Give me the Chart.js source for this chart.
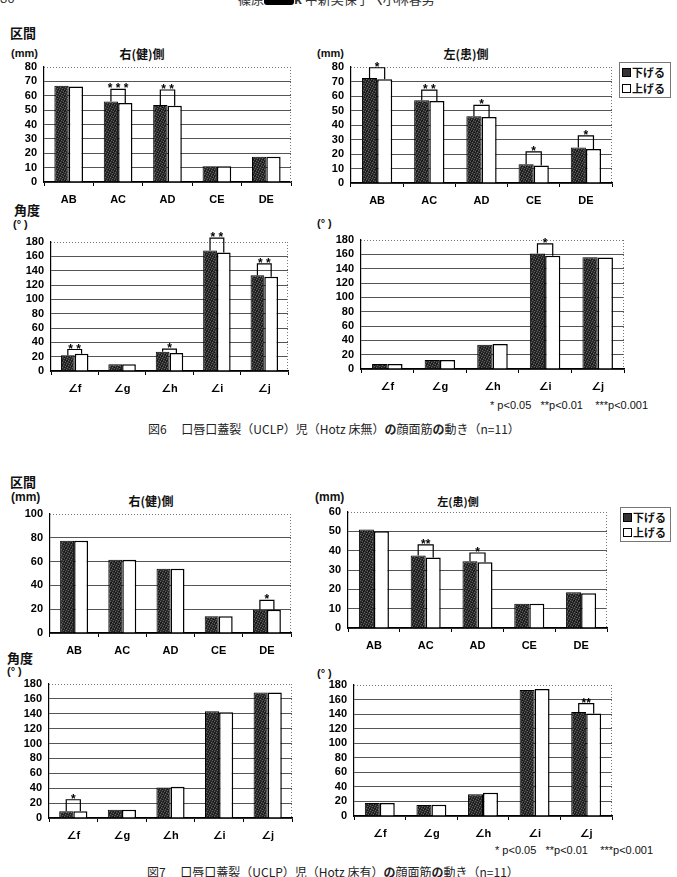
<!DOCTYPE html>
<html><head><meta charset="utf-8">
<script src="https://cdn.jsdelivr.net/npm/chart.js@4/dist/chart.umd.min.js"></script>
<style>
html,body{margin:0;padding:0;background:#fff;}
#page{position:relative;width:677px;height:877px;overflow:hidden;background:#fff;font-family:"Liberation Sans","Noto Sans CJK JP",sans-serif;color:#111;}
canvas{position:absolute;}
.t{position:absolute;white-space:pre;line-height:1;}
.cj{font-family:"Noto Sans CJK JP",sans-serif;}
.b{font-weight:bold;}
.lg{position:absolute;border:1px solid #777;background:#fff;box-sizing:border-box;font-family:"Noto Sans CJK JP",sans-serif;font-weight:bold;font-size:11px;line-height:1;}
.lg div{position:absolute;left:2px;white-space:pre;}
.sw{display:inline-block;width:7px;height:7px;border:1px solid #000;margin-right:1px;vertical-align:0px;}
</style></head>
<body><div id="page">
<div class="t cj" style="left:0;top:-9px;font-size:13px;color:#333">86</div>
<div class="t cj" style="left:238px;top:-8px;font-size:13px;color:#333">篠原<span style="display:inline-block;width:30px;height:11px;background:#000;border-radius:3px;vertical-align:-1px"></span><b>k</b> 中新美保子<b>〈</b>小林春男</div>

<div class="t cj b" style="left:10px;top:26px;font-size:13px">区間</div>
<div class="t b" style="left:11px;top:48px;font-size:11px">(mm)</div>
<div class="t cj b" style="left:92px;top:48px;width:100px;text-align:center;font-size:12px">右(健)側</div>
<div class="t b" style="left:317px;top:48px;font-size:11px">(mm)</div>
<div class="t cj b" style="left:416px;top:48px;width:100px;text-align:center;font-size:12px">左(患)側</div>
<div class="lg" style="left:619px;top:62px;width:52px;height:36px">
  <div style="top:4px"><span class="sw" id="sw1"></span>下げる</div>
  <div style="top:20px"><span class="sw" style="background:#fff"></span>上げる</div>
</div>
<div class="t cj b" style="left:14px;top:203px;font-size:13px">角度</div>
<div class="t b" style="left:13px;top:219px;font-size:11px">(° )</div>
<div class="t b" style="left:317px;top:218px;font-size:11px">(° )</div>
<div class="t" style="left:490px;top:400px;font-size:11px">* p&lt;0.05   **p&lt;0.01    ***p&lt;0.001</div>
<div class="t cj" style="left:148px;top:423px;font-size:12px;color:#222">図6　 口唇口蓋裂（UCLP）児（Hotz 床無）<b>の</b>顔面筋<b>の</b>動き（n=11）</div>

<div class="t cj b" style="left:10px;top:475px;font-size:13px">区間</div>
<div class="t b" style="left:11px;top:491px;font-size:12px">(mm)</div>
<div class="t cj b" style="left:101px;top:495px;width:100px;text-align:center;font-size:12px">右(健)側</div>
<div class="t b" style="left:315px;top:491px;font-size:12px">(mm)</div>
<div class="t cj b" style="left:408px;top:496px;width:100px;text-align:center;font-size:11px">左(患)側</div>
<div class="lg" style="left:620px;top:507px;width:51px;height:35px">
  <div style="top:4px"><span class="sw" id="sw2"></span>下げる</div>
  <div style="top:19px"><span class="sw" style="background:#fff"></span>上げる</div>
</div>
<div class="t cj b" style="left:7px;top:651px;font-size:13px">角度</div>
<div class="t b" style="left:7px;top:666px;font-size:11px">(° )</div>
<div class="t b" style="left:317px;top:668px;font-size:11px">(° )</div>
<div class="t" style="left:495px;top:845px;font-size:11px">* p&lt;0.05   **p&lt;0.01    ***p&lt;0.001</div>
<div class="t cj" style="left:147px;top:866px;font-size:12px;color:#222">図7　 口唇口蓋裂（UCLP）児（Hotz 床有）<b>の</b>顔面筋<b>の</b>動き（n=11）</div>
</div>
<script>
// ---- categories ----
const distCats = ['AB','AC','AD','CE','DE'];
const angleCats = ['∠f','∠g','∠h','∠i','∠j'];

// ---- Fig 6 (Hotz 床無) ----
const f6RightDistDown = [67, 56, 53.5, 11, 17.5];
const f6RightDistUp   = [66.5, 55, 53, 11, 17.5];
const f6RightDistBrk  = [null, 64.5, 64, null, null];
const f6RightDistSig  = ['', '* * *', '* *', '', ''];

const f6LeftDistDown = [72.5, 57, 46, 13, 24.5];
const f6LeftDistUp   = [71.5, 56.5, 45.5, 12, 23.5];
const f6LeftDistBrk  = [79.5, 64, 53.5, 21.5, 32.5];
const f6LeftDistSig  = ['*', '* *', '*', '*', '*'];

const f6RightAngDown = [22, 9.5, 27, 168, 133.5];
const f6RightAngUp   = [24, 9.5, 25, 165.5, 131.5];
const f6RightAngBrk  = [30, null, 30.5, 185.5, 149.5];
const f6RightAngSig  = ['* *', '', '*', '* *', '* *'];

const f6LeftAngDown = [7, 12.5, 34, 161, 156];
const f6LeftAngUp   = [7, 12.5, 35, 158, 155.5];
const f6LeftAngBrk  = [null, null, null, 174.5, null];
const f6LeftAngSig  = ['', '', '', '*', ''];

// ---- Fig 7 (Hotz 床有) ----
const f7RightDistDown = [77.5, 61.5, 54, 14, 19.5];
const f7RightDistUp   = [77.5, 61.5, 54, 14, 19.5];
const f7RightDistBrk  = [null, null, null, null, 27.5];
const f7RightDistSig  = ['', '', '', '', '*'];

const f7LeftDistDown = [51, 37.5, 34.5, 12.5, 18.5];
const f7LeftDistUp   = [50, 36.5, 34, 12.5, 18];
const f7LeftDistBrk  = [null, 43, 38.8, null, null];
const f7LeftDistSig  = ['', '**', '*', '', ''];

const f7RightAngDown = [9, 11, 41, 143.5, 168.5];
const f7RightAngUp   = [9, 11, 42, 142, 168.5];
const f7RightAngBrk  = [24.5, null, null, null, null];
const f7RightAngSig  = ['*', '', '', '', ''];

const f7LeftAngDown = [18, 15, 30, 173, 143];
const f7LeftAngUp   = [18, 15.5, 32, 174.5, 141];
const f7LeftAngBrk  = [null, null, null, null, 154.5];
const f7LeftAngSig  = ['', '', '', '', '**'];

// ---- stipple pattern for dark bars ----
function makePattern(){
  const pc = document.createElement('canvas'); pc.width = 5; pc.height = 5;
  const g = pc.getContext('2d');
  g.fillStyle = '#2c2c2c'; g.fillRect(0,0,5,5);
  g.fillStyle = '#626262';
  [[0,0],[2,1],[4,2],[1,3],[3,4]].forEach(p=>g.fillRect(p[0],p[1],1,1));
  g.fillStyle = '#111';
  [[1,1],[3,2],[0,4],[2,3]].forEach(p=>g.fillRect(p[0],p[1],1,1));
  return pc;
}
const patCanvas = makePattern();
['sw1','sw2'].forEach(id=>{document.getElementById(id).style.background = '#333';});

const FONT = {family:'"Liberation Sans","DejaVu Sans","Noto Sans CJK JP",sans-serif', size:11, weight:'bold'};

function sigPlugin(down, up, brk, sig){
  return {
    id:'sig',
    afterDatasetsDraw(chart){
      const ctx = chart.ctx, a = chart.chartArea, y = chart.scales.y;
      ctx.save();
      ctx.strokeStyle = '#777'; ctx.lineWidth = 1; ctx.setLineDash([1,2]);
      ctx.beginPath();
      ctx.moveTo(a.left, a.top + 0.5); ctx.lineTo(a.right, a.top + 0.5);
      ctx.moveTo(a.right - 0.5, a.top); ctx.lineTo(a.right - 0.5, a.bottom);
      ctx.stroke();
      ctx.restore();
      const m0 = chart.getDatasetMeta(0), m1 = chart.getDatasetMeta(1);
      ctx.save();
      ctx.strokeStyle = '#000'; ctx.lineWidth = 1.2;
      ctx.fillStyle = '#000';
      ctx.font = 'bold 12px "Liberation Sans", sans-serif';
      ctx.textAlign = 'center'; ctx.textBaseline = 'alphabetic';
      brk.forEach((v,i)=>{
        if (v === null) return;
        const x0 = m0.data[i].x, x1 = m1.data[i].x;
        const yt = y.getPixelForValue(v);
        ctx.beginPath();
        ctx.moveTo(x0, y.getPixelForValue(down[i]));
        ctx.lineTo(x0, yt); ctx.lineTo(x1, yt);
        ctx.lineTo(x1, y.getPixelForValue(up[i]));
        ctx.stroke();
        ctx.fillText(sig[i], (x0+x1)/2, yt + 3);
      });
      ctx.restore();
    }
  };
}

function makeChart(rect, cats, down, up, brk, sig, yMax, yStep){
  const padTop = 24, yW = 42, xH = 28, padR = 4;
  const L = Math.round(rect[0]), T = Math.round(rect[1]), R = Math.round(rect[2]), B = Math.round(rect[3]);
  const cv = document.createElement('canvas');
  const cl = L - yW, ct = T - padTop;
  const w = R - cl + padR, h = B - ct + xH;
  cv.width = w; cv.height = h;
  cv.style.left = cl + 'px'; cv.style.top = ct + 'px';
  cv.style.width = w + 'px'; cv.style.height = h + 'px';
  document.getElementById('page').appendChild(cv);
  const pattern = cv.getContext('2d').createPattern(patCanvas, 'repeat');
  return new Chart(cv, {
    type:'bar',
    data:{labels:cats, datasets:[
      {label:'下げる', data:down, backgroundColor:pattern, borderColor:'#000', borderWidth:1, barPercentage:1, categoryPercentage:0.58},
      {label:'上げる', data:up, backgroundColor:'#fff', borderColor:'#000', borderWidth:1.5, barPercentage:1, categoryPercentage:0.58}
    ]},
    options:{
      responsive:false, animation:false, devicePixelRatio:1,
      layout:{padding:{top:padTop, right:padR, left:0, bottom:0}},
      plugins:{legend:{display:false}, tooltip:{enabled:false}},
      scales:{
        x:{
          offset:true,
          grid:{offset:true, drawOnChartArea:false, drawTicks:true, tickLength:4, color:'#000'},
          border:{color:'#000', width:1.5},
          ticks:{font:FONT, color:'#000', padding:7, maxRotation:0, autoSkip:false},
          afterFit(s){ s.height = xH; }
        },
        y:{
          min:0, max:yMax,
          grid:{drawTicks:false, color:(c)=> (c.tick && c.tick.value === yMax) ? 'rgba(0,0,0,0)' : '#555', lineWidth:1},
          border:{color:'#000', width:1.2},
          ticks:{stepSize:yStep, font:FONT, color:'#000', padding:7, autoSkip:false},
          afterFit(s){ s.width = yW; }
        }
      }
    },
    plugins:[sigPlugin(down, up, brk, sig)]
  });
}

makeChart([44, 67, 291, 182], distCats, f6RightDistDown, f6RightDistUp, f6RightDistBrk, f6RightDistSig, 80, 10);
makeChart([351, 67, 612, 183], distCats, f6LeftDistDown, f6LeftDistUp, f6LeftDistBrk, f6LeftDistSig, 80, 10);
makeChart([51, 242, 288, 371], angleCats, f6RightAngDown, f6RightAngUp, f6RightAngBrk, f6RightAngSig, 180, 20);
makeChart([361, 240, 624, 369], angleCats, f6LeftAngDown, f6LeftAngUp, f6LeftAngBrk, f6LeftAngSig, 180, 20);
makeChart([50, 514, 291, 633], distCats, f7RightDistDown, f7RightDistUp, f7RightDistBrk, f7RightDistSig, 100, 20);
makeChart([348, 512, 607, 628], distCats, f7LeftDistDown, f7LeftDistUp, f7LeftDistBrk, f7LeftDistSig, 60, 10);
makeChart([49, 684, 292, 818], angleCats, f7RightAngDown, f7RightAngUp, f7RightAngBrk, f7RightAngSig, 180, 20);
makeChart([354, 685, 612, 816], angleCats, f7LeftAngDown, f7LeftAngUp, f7LeftAngBrk, f7LeftAngSig, 180, 20);
</script>
</body></html>
